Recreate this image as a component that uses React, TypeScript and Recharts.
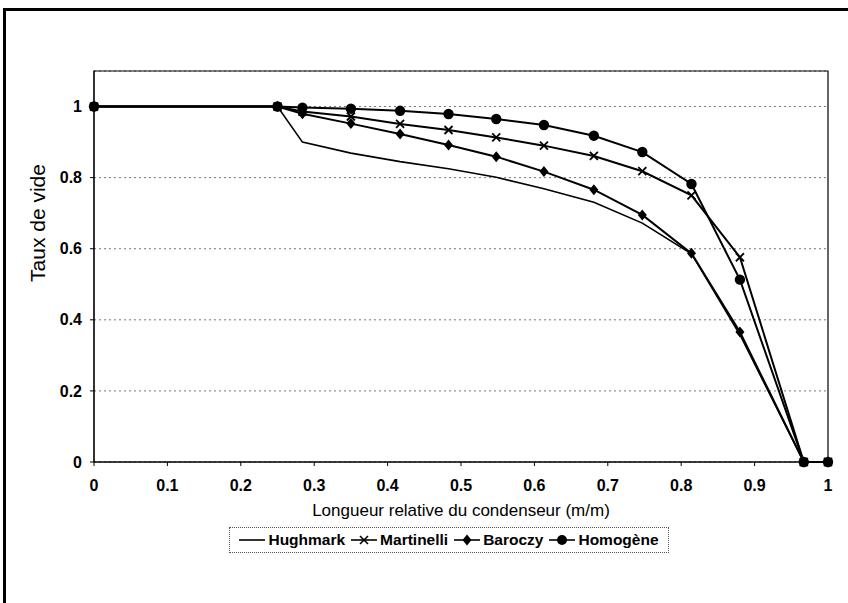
import React from "react";
import {
  LineChart,
  Line,
  XAxis,
  YAxis,
  CartesianGrid,
  Legend,
  Label,
  ReferenceArea,
} from "recharts";

// Relative condenser length (m/m)
const positions = [0, 0.25, 0.284, 0.35, 0.417, 0.483, 0.548, 0.613, 0.681, 0.747, 0.814, 0.88, 0.967, 1.0];
// Void fraction per model
const hughmark = [1, 1, 0.9, 0.869, 0.845, 0.825, 0.801, 0.769, 0.731, 0.672, 0.586, 0.358, 0, 0];
const martinelli = [1, 1, 0.986, 0.972, 0.951, 0.934, 0.913, 0.89, 0.861, 0.818, 0.75, 0.576, 0, 0];
const baroczy = [1, 1, 0.98, 0.952, 0.923, 0.892, 0.859, 0.817, 0.766, 0.695, 0.587, 0.366, 0, 0];
const homogene = [1, 1, 0.997, 0.994, 0.988, 0.979, 0.965, 0.948, 0.918, 0.872, 0.782, 0.513, 0, 0];

const xTicks = [0, 0.1, 0.2, 0.3, 0.4, 0.5, 0.6, 0.7, 0.8, 0.9, 1];
const yTicks = [0, 0.2, 0.4, 0.6, 0.8, 1];

const seriesNames = ["Hughmark", "Martinelli", "Baroczy", "Homogène"];

const data = positions.map((x, i) => ({
  x,
  hughmark: hughmark[i],
  martinelli: martinelli[i],
  baroczy: baroczy[i],
  homogene: homogene[i],
}));

const FONT = "'Liberation Sans', Arial, Helvetica, sans-serif";

const CircleDot = (props: any) => {
  const { cx, cy, index } = props;
  if (cx == null || cy == null) return <g key={`c${index}`} />;
  return <circle key={`c${index}`} cx={cx} cy={cy} r={5.2} fill="#000" />;
};

const DiamondDot = (props: any) => {
  const { cx, cy, index } = props;
  if (cx == null || cy == null) return <g key={`d${index}`} />;
  return (
    <polygon
      key={`d${index}`}
      points={`${cx},${cy - 5.5} ${cx + 4.5},${cy} ${cx},${cy + 5.5} ${cx - 4.5},${cy}`}
      fill="#000"
    />
  );
};

const CrossDot = (props: any) => {
  const { cx, cy, index } = props;
  if (cx == null || cy == null) return <g key={`x${index}`} />;
  const s = 4;
  return (
    <g key={`x${index}`} stroke="#000" strokeWidth={1.8}>
      <line x1={cx - s} y1={cy - s} x2={cx + s} y2={cy + s} />
      <line x1={cx - s} y1={cy + s} x2={cx + s} y2={cy - s} />
    </g>
  );
};

const LegendIcon = ({ kind }: { kind: number }) => (
  <svg width={26} height={14} style={{ display: "block" }}>
    <line x1={0} y1={7} x2={26} y2={7} stroke="#000" strokeWidth={1.6} />
    {kind === 1 && (
      <g stroke="#000" strokeWidth={1.6}>
        <line x1={9} y1={3} x2={17} y2={11} />
        <line x1={9} y1={11} x2={17} y2={3} />
      </g>
    )}
    {kind === 2 && <polygon points="13,1.5 17.5,7 13,12.5 8.5,7" fill="#000" />}
    {kind === 3 && <circle cx={13} cy={7} r={5} fill="#000" />}
  </svg>
);

const renderLegend = () => (
  <div
    style={{
      boxSizing: "border-box",
      width: "100%",
      height: "100%",
      border: "1px dotted #555",
      display: "flex",
      alignItems: "center",
      justifyContent: "center",
      fontFamily: FONT,
      fontWeight: "bold",
      fontSize: 15.5,
      color: "#000",
      whiteSpace: "nowrap",
    }}
  >
    {seriesNames.map((n, i) => (
      <div key={n} style={{ display: "flex", alignItems: "center", marginRight: i < 3 ? 6 : 0 }}>
        <LegendIcon kind={i} />
        <span style={{ marginLeft: 3 }}>{n}</span>
      </div>
    ))}
  </div>
);

export default function App() {
  return (
    <div
      style={{
        position: "absolute",
        left: 0,
        top: 0,
        width: 848,
        height: 603,
        overflow: "hidden",
        background: "#fff",
      }}
    >
      <div
        style={{
          position: "absolute",
          left: 3,
          top: 8,
          width: 1000,
          height: 800,
          borderLeft: "3px solid #000",
          borderTop: "3px solid #000",
        }}
      />
      <div style={{ position: "absolute", left: 0, top: 0 }}>
        <LineChart
          width={848}
          height={603}
          data={data}
          margin={{ top: 71, right: 20, left: 34, bottom: 81 }}
        >
          <CartesianGrid
            vertical={false}
            stroke="#777"
            strokeDasharray="2 3"
            strokeWidth={1}
          />
          <ReferenceArea
            x1={0}
            x2={1}
            y1={0}
            y2={1.1}
            fill="none"
            stroke="#000"
            strokeWidth={1.2}
            ifOverflow="visible"
          />
          <XAxis
            dataKey="x"
            type="number"
            domain={[0, 1]}
            ticks={xTicks}
            height={60}
            tickSize={4}
            tickMargin={14}
            stroke="#000"
            tick={{ fill: "#000", fontSize: 16, fontWeight: "bold", fontFamily: FONT }}
            tickFormatter={(v: number) => String(v)}
          >
            <Label
              value="Longueur relative du condenseur (m/m)"
              position="insideBottom"
              offset={6}
              style={{ fill: "#000", fontSize: 17, fontFamily: FONT }}
            />
          </XAxis>
          <YAxis
            type="number"
            domain={[0, 1.1]}
            ticks={yTicks}
            width={60}
            tickSize={4}
            tickMargin={8}
            stroke="#000"
            tick={{ fill: "#000", fontSize: 16, fontWeight: "bold", fontFamily: FONT }}
            tickFormatter={(v: number) => String(v)}
          >
            <Label
              content={() => (
                <text
                  x={37}
                  y={223}
                  transform="rotate(-90 37 223)"
                  textAnchor="middle"
                  dominantBaseline="central"
                  fill="#000"
                  fontSize={21}
                  fontFamily={FONT}
                >
                  Taux de vide
                </text>
              )}
            />
          </YAxis>
          <Legend
            layout="horizontal"
            verticalAlign="middle"
            align="center"
            content={renderLegend}
            wrapperStyle={{ left: 229, top: 527, width: 440, height: 26 }}
          />
          <Line
            dataKey="hughmark"
            name="Hughmark"
            stroke="#000"
            strokeWidth={1.6}
            dot={false}
            activeDot={false}
            isAnimationActive={false}
          />
          <Line
            dataKey="martinelli"
            name="Martinelli"
            stroke="#000"
            strokeWidth={2}
            dot={CrossDot}
            activeDot={false}
            isAnimationActive={false}
          />
          <Line
            dataKey="baroczy"
            name="Baroczy"
            stroke="#000"
            strokeWidth={2}
            dot={DiamondDot}
            activeDot={false}
            isAnimationActive={false}
          />
          <Line
            dataKey="homogene"
            name="Homogène"
            stroke="#000"
            strokeWidth={2}
            dot={CircleDot}
            activeDot={false}
            isAnimationActive={false}
          />
        </LineChart>
      </div>
    </div>
  );
}
